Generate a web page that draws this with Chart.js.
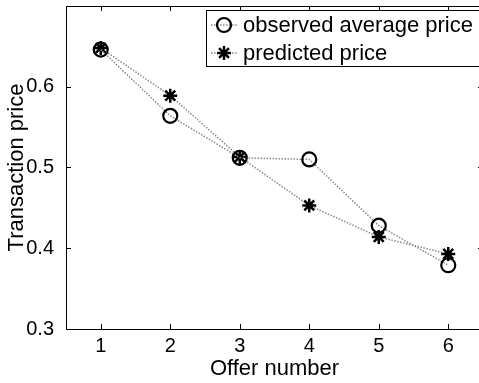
<!DOCTYPE html>
<html>
<head>
<meta charset="utf-8">
<script src="https://cdn.jsdelivr.net/npm/chart.js@4/dist/chart.umd.min.js"></script>
<style>
  html, body { margin: 0; padding: 0; background: #fff; overflow: hidden; }
  #wrap { width: 484px; height: 383px; }
</style>
</head>
<body>
<div id="wrap"><canvas id="chart" width="484" height="383"></canvas></div>
<script>
// data
const offers = [1, 2, 3, 4, 5, 6];
const observed = [0.646, 0.564, 0.512, 0.510, 0.428, 0.379];
const predicted = [0.648, 0.589, 0.513, 0.453, 0.414, 0.393];
const xTicks = [1, 2, 3, 4, 5, 6];
const yTicks = [0.3, 0.4, 0.5, 0.6];
const seriesNames = ['observed average price', 'predicted price'];

const FONT = 'Liberation Sans, Arial, Helvetica, sans-serif';

// no automatic label overhang padding, plot box is fixed by hand
const noPad = s => {
  s.paddingTop = 0; s.paddingBottom = 0;
  s.paddingLeft = 0; s.paddingRight = 0;
};

// box around the axes + inward tick marks (matlab style)
const frame = {
  id: 'frame',
  afterDraw(chart) {
    const { ctx, chartArea: a, scales: { x, y } } = chart;
    ctx.save();
    ctx.strokeStyle = '#000';
    ctx.lineWidth = 1;
    ctx.strokeRect(a.left + 0.5, a.top + 0.5, a.right - a.left, a.bottom - a.top);
    ctx.beginPath();
    const len = 5;
    xTicks.forEach(v => {
      const px = Math.round(x.getPixelForValue(v)) + 0.5;
      ctx.moveTo(px, a.bottom); ctx.lineTo(px, a.bottom - len);
      ctx.moveTo(px, a.top); ctx.lineTo(px, a.top + len);
    });
    yTicks.forEach(v => {
      const py = Math.round(y.getPixelForValue(v)) + 0.5;
      ctx.moveTo(a.left, py); ctx.lineTo(a.left + len, py);
      ctx.moveTo(a.right, py); ctx.lineTo(a.right - len, py);
    });
    ctx.stroke();
    ctx.restore();
  }
};

// legend box in the upper right corner
const legendBox = {
  id: 'legendBox',
  afterDraw(chart) {
    const { ctx } = chart;
    const bx = 206, by = 10, bw = 290, bh = 56;
    ctx.save();
    ctx.fillStyle = '#fff';
    ctx.fillRect(bx, by, bw, bh);
    ctx.strokeStyle = '#000';
    ctx.lineWidth = 1;
    ctx.strokeRect(bx + 0.5, by + 0.5, bw, bh);
    chart.data.datasets.forEach((ds, i) => {
      const cy = by + 15 + i * 28;
      ctx.strokeStyle = ds.borderColor;
      ctx.lineWidth = ds.borderWidth;
      ctx.setLineDash(ds.borderDash);
      ctx.beginPath();
      ctx.moveTo(bx + 5, cy); ctx.lineTo(bx + 31, cy);
      ctx.stroke();
      ctx.setLineDash([]);
      ctx.strokeStyle = '#000';
      ctx.fillStyle = ds.pointBackgroundColor;
      ctx.lineWidth = ds.pointBorderWidth;
      Chart.helpers.drawPoint(ctx, {
        pointStyle: ds.pointStyle,
        radius: ds.pointRadius,
        borderWidth: ds.pointBorderWidth
      }, bx + 18, cy);
      ctx.fillStyle = '#000';
      ctx.font = '22px ' + FONT;
      ctx.textBaseline = 'middle';
      ctx.fillText(seriesNames[i], bx + 37, cy + 1);
    });
    ctx.restore();
  }
};

const ctx = document.getElementById('chart').getContext('2d');
new Chart(ctx, {
  type: 'line',
  data: {
    labels: offers,
    datasets: [
      {
        label: seriesNames[0],
        data: offers.map((o, i) => ({ x: o, y: observed[i] })),
        borderColor: '#8a8a8a',
        borderWidth: 1.5,
        borderDash: [1.5, 1.5],
        pointStyle: 'circle',
        pointRadius: 7,
        pointBorderWidth: 2.2,
        pointBorderColor: '#000',
        pointBackgroundColor: 'rgba(0,0,0,0)',
        tension: 0
      },
      {
        label: seriesNames[1],
        data: offers.map((o, i) => ({ x: o, y: predicted[i] })),
        borderColor: '#8a8a8a',
        borderWidth: 1.5,
        borderDash: [1.5, 1.5],
        pointStyle: 'star',
        pointRadius: 7,
        pointBorderWidth: 2.5,
        pointBorderColor: '#000',
        pointBackgroundColor: '#000',
        tension: 0
      }
    ]
  },
  options: {
    responsive: false,
    animation: false,
    layout: { autoPadding: false, padding: { top: 6, right: 1, left: 0, bottom: 0 } },
    plugins: { legend: { display: false }, tooltip: { enabled: false } },
    scales: {
      x: {
        type: 'linear',
        min: 0.5,
        max: 6.5,
        grid: { display: false, tickLength: 3 },
        border: { display: false },
        afterBuildTicks: s => { s.ticks = xTicks.map(v => ({ value: v })); },
        afterFit: s => { s.height = 54; noPad(s); },
        ticks: { color: '#000', font: { family: FONT, size: 20 }, padding: 2, maxRotation: 0 },
        title: { display: true, text: 'Offer number', color: '#000', font: { family: FONT, size: 22 }, padding: { top: 0, bottom: 1 } }
      },
      y: {
        min: 0.3,
        max: 0.7,
        grid: { display: false },
        border: { display: false },
        afterBuildTicks: s => { s.ticks = yTicks.map(v => ({ value: v })); },
        afterFit: s => { s.width = 66; noPad(s); },
        ticks: { color: '#000', font: { family: FONT, size: 20 }, padding: 4, callback: v => v.toFixed(1) },
        title: { display: true, text: 'Transaction price', color: '#000', font: { family: FONT, size: 22 }, padding: { top: 4, bottom: 0 } }
      }
    }
  },
  plugins: [frame, legendBox]
});
</script>
</body>
</html>
